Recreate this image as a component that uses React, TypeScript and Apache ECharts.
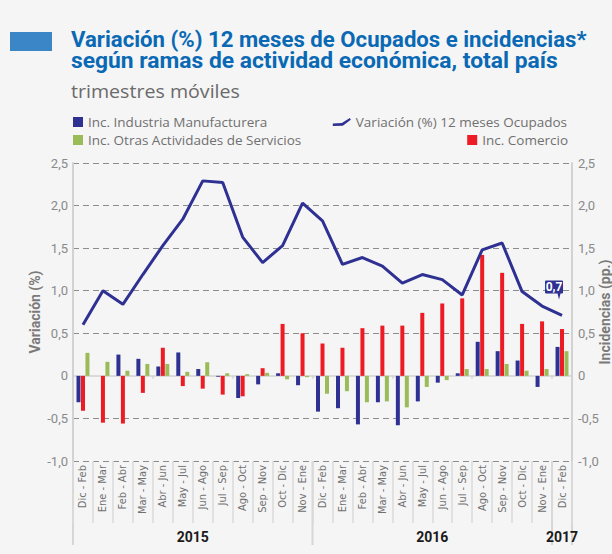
import React, { useEffect, useRef } from 'react';
import * as echarts from 'echarts';

const months = ['Dic - Feb', 'Ene - Mar', 'Feb - Abr', 'Mar - May', 'Abr - Jun', 'May - Jul', 'Jun - Ago', 'Jul - Sep', 'Ago - Oct', 'Sep - Nov', 'Oct - Dic', 'Nov - Ene'];
const categories = [...months, ...months, 'Dic - Feb'];
const years = [
  { label: '2015', start: 0, end: 12 },
  { label: '2016', start: 12, end: 24 },
  { label: '2017', start: 24, end: 25 },
];
const variacion = [0.60, 1.00, 0.84, 1.19, 1.53, 1.84, 2.29, 2.27, 1.63, 1.33, 1.53, 2.03, 1.82, 1.31, 1.39, 1.29, 1.09, 1.19, 1.13, 0.95, 1.48, 1.56, 0.99, 0.82, 0.71];
const industria = [-0.31, 0, 0.25, 0.20, 0.11, 0.275, 0.08, -0.01, -0.26, -0.10, 0.03, -0.11, -0.42, -0.38, -0.57, -0.31, -0.58, -0.30, -0.08, 0.03, 0.40, 0.29, 0.18, -0.13, 0.34];
const comercio = [-0.41, -0.55, -0.56, -0.20, 0.33, -0.12, -0.15, -0.22, -0.24, 0.09, 0.61, 0.50, 0.38, 0.33, 0.56, 0.59, 0.59, 0.74, 0.85, 0.91, 1.42, 1.21, 0.61, 0.64, 0.55];
const otras = [0.27, 0.165, 0.06, 0.14, 0.14, 0.047, 0.16, 0.03, 0.02, 0.035, -0.04, -0.015, -0.21, -0.18, -0.31, -0.30, -0.37, -0.13, -0.05, 0.08, 0.08, 0.14, 0.06, 0.08, 0.29];

const titleLine1 = 'Variación (%) 12 meses de Ocupados e incidencias*';
const titleLine2 = 'según ramas de actividad económica, total país';
const subtitle = 'trimestres móviles';
const S_IND = 'Inc. Industria Manufacturera';
const S_VAR = 'Variación (%) 12 meses Ocupados';
const S_OTR = 'Inc. Otras Actividades de Servicios';
const S_COM = 'Inc. Comercio';

const NAVY = '#2e3192';
const RED = '#ed1c24';
const GREEN = '#9bbb59';
const BG = '#f5f5f5';
const TITLE_BLUE = '#0a69b4';

function measure(font: string, text: string) {
  const c = document.createElement('canvas');
  const ctx = c.getContext('2d')!;
  ctx.font = font;
  return ctx.measureText(text).width;
}

const fmt = (v: number) => (v === 0 ? '0' : v.toFixed(1).replace('.', ','));

export default function App() {
  const ref = useRef<HTMLDivElement>(null);
  useEffect(() => {
    document.body.style.margin = '0';
    const chart = echarts.init(ref.current!, null, { renderer: 'svg' });
    const legendText = { fontFamily: 'Open Sans', fontSize: 13.5, color: '#707070' };
    const axisLabel = { fontFamily: 'Roboto', fontSize: 13, color: '#8a8a8a' };
    const splitColors = ['#8c8c8c', '#8c8c8c', 'rgba(0,0,0,0)', '#8c8c8c', '#8c8c8c', '#8c8c8c', '#8c8c8c', '#8c8c8c'];
    const option: any = {
      animation: false,
      backgroundColor: BG,
      grid: { left: 73, right: 40, top: 163, bottom: 93, outerBoundsMode: 'none', containLabel: false },
      legend: [
        { left: 73, top: 115, padding: 0, itemWidth: 10, itemHeight: 10, textStyle: legendText, data: [{ name: S_IND, icon: 'rect' }] },
        { left: 73, top: 133, padding: 0, itemWidth: 10, itemHeight: 10, textStyle: legendText, data: [{ name: S_OTR, icon: 'rect' }] },
        { right: 45, top: 115, padding: 0, itemWidth: 18, itemHeight: 8, textStyle: legendText, data: [{ name: S_VAR, icon: 'path://M0,5.5 L9,5 L17,0 L18,1.8 L10,7.8 L0,8 Z' }] },
        { right: 44, top: 133, padding: 0, itemWidth: 10, itemHeight: 10, textStyle: legendText, data: [{ name: S_COM, icon: 'rect' }] },
      ],
      xAxis: [
        {
          type: 'category',
          data: categories,
          axisLine: { onZero: true, lineStyle: { color: '#d2d2d2', width: 1.5 } },
          axisTick: { show: true, length: 3, lineStyle: { color: '#d2d2d2', width: 1.5 } },
          axisLabel: { show: false },
        },
        {
          type: 'category',
          data: categories,
          position: 'bottom',
          axisLine: { show: false, onZero: false },
          axisTick: { show: true, length: 62, lineStyle: { color: '#dadada', width: 1.5 } },
          axisLabel: {
            interval: 0,
            rotate: 90,
            margin: 4,
            fontFamily: "'Liberation Sans Narrow', 'DejaVu Sans Condensed', Roboto",
            fontSize: 11,
            color: '#707070',
          },
        },
      ],
      yAxis: [
        {
          type: 'value',
          min: -1,
          max: 2.5,
          interval: 0.5,
          name: 'Variación (%)',
          nameLocation: 'middle',
          nameGap: 31,
          nameMoveOverlap: false,
          nameTextStyle: { fontFamily: 'Roboto', fontSize: 14, fontWeight: 'bold', color: '#7a7a7a' },
          axisLine: { show: true, lineStyle: { color: '#d2d2d2', width: 2 } },
          axisTick: { show: false },
          axisLabel: { ...axisLabel, margin: 5, formatter: fmt },
          splitLine: { show: true, lineStyle: { color: splitColors, type: [6, 4], width: 1.2 } },
        },
        {
          type: 'value',
          min: -1,
          max: 2.5,
          interval: 0.5,
          position: 'right',
          name: 'Incidencias (pp.)',
          nameLocation: 'middle',
          nameGap: 26,
          nameMoveOverlap: false,
          nameTextStyle: { fontFamily: 'Roboto', fontSize: 14, fontWeight: 'bold', color: '#7a7a7a' },
          axisLine: { show: true, lineStyle: { color: '#d2d2d2', width: 2 } },
          axisTick: { show: false },
          axisLabel: { ...axisLabel, margin: 6, formatter: fmt },
          splitLine: { show: false },
        },
      ],
      series: [
        { name: S_IND, type: 'bar', data: industria, itemStyle: { color: NAVY }, barWidth: 4, barGap: '12%', yAxisIndex: 1 },
        { name: S_COM, type: 'bar', data: comercio, itemStyle: { color: RED }, barWidth: 4, barGap: '12%', yAxisIndex: 1 },
        { name: S_OTR, type: 'bar', data: otras, itemStyle: { color: GREEN }, barWidth: 4, barGap: '12%', yAxisIndex: 1 },
        {
          name: S_VAR,
          type: 'line',
          data: variacion,
          showSymbol: false,
          symbol: 'none',
          lineStyle: { color: NAVY, width: 3 },
          itemStyle: { color: NAVY },
          z: 5,
          markPoint: {
            symbol: 'path://M1,0 H17 Q18,0 18,1 V12 Q18,13 17,13 H15.5 L14,19 L12.5,13 H1 Q0,13 0,12 V1 Q0,0 1,0 Z',
            symbolSize: [18, 19],
            symbolOffset: [-8, -25.5],
            itemStyle: { color: NAVY },
            label: { show: true, formatter: (p: any) => fmt(p.value), color: '#fff', fontFamily: 'Roboto', fontWeight: 'bold', fontSize: 12, offset: [0, -3] },
            data: [{ coord: [24, variacion[24]], value: variacion[24] }],
          },
        },
      ],
    };
    chart.setOption(option);

    const c0 = chart.convertToPixel({ xAxisIndex: 1 }, 0) as number;
    const c1 = chart.convertToPixel({ xAxisIndex: 1 }, 1) as number;
    const band = c1 - c0;
    const boundary = (i: number) => c0 - band / 2 + band * i;
    const yBottom = chart.convertToPixel({ yAxisIndex: 0 }, -1) as number;

    const f1 = 'bold 22px Roboto';
    const s1 = 516 / measure(f1, titleLine1);
    const s2 = 487 / measure(f1, titleLine2);
    const fs = '18px "Open Sans"';
    const sS = 169 / measure(fs, subtitle);

    const graphic: any[] = [
      { type: 'rect', shape: { x: 10, y: 32, width: 42, height: 19 }, style: { fill: '#3a86c7' } },
      { type: 'text', x: 71, y: 40, scaleX: s1, style: { text: titleLine1, font: f1, fill: TITLE_BLUE, textVerticalAlign: 'middle' } },
      { type: 'text', x: 71, y: 60, scaleX: s2, style: { text: titleLine2, font: f1, fill: TITLE_BLUE, textVerticalAlign: 'middle' } },
      { type: 'text', x: 71, y: 91, scaleX: sS, style: { text: subtitle, font: fs, fill: '#6a6a6a', textVerticalAlign: 'middle' } },
    ];
    const sepIdx = [0, 12, 24, 25];
    sepIdx.forEach((i) => {
      const x = boundary(i);
      graphic.push({ type: 'line', shape: { x1: x, y1: yBottom, x2: x, y2: yBottom + 84 }, style: { stroke: '#d6d6d6', lineWidth: 2 } });
    });
    years.forEach((y) => {
      const x = (boundary(y.start) + boundary(y.end)) / 2;
      graphic.push({ type: 'text', x, y: yBottom + 76, style: { text: y.label, font: 'bold 14px Roboto', fill: '#1a1a1a', textAlign: 'center', textVerticalAlign: 'middle' } });
    });
    chart.setOption({ graphic });

    return () => chart.dispose();
  }, []);
  return <div ref={ref} style={{ width: 612, height: 554, background: BG }} />;
}
